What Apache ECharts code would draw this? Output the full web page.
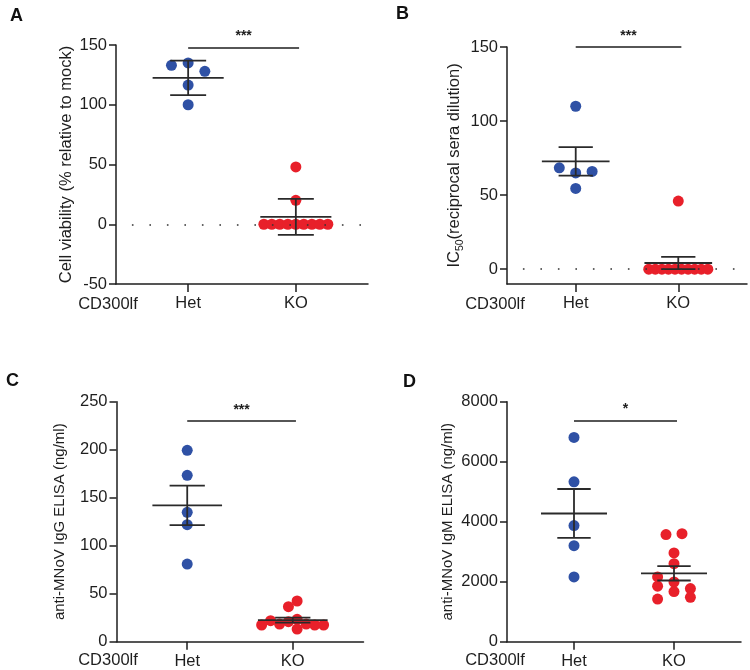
<!DOCTYPE html>
<html><head><meta charset="utf-8">
<script src="https://cdn.jsdelivr.net/npm/echarts@6/dist/echarts.min.js"></script>
<style>html,body{margin:0;padding:0;background:#fff}#c{width:750px;height:670px}</style>
</head><body><div id="c"></div>
<script>
// ---- data ----
const groups = ['Het', 'KO'];
const xAxisTitle = 'CD300lf';
const panelLetters = ['A', 'B', 'C', 'D'];

const aHet = [133, 135, 128, 116.5, 100];
const aHetJit = [-0.155, 0, 0.155, 0, 0];
const aKO = [0, 0, 0, 0, 0, 0, 0, 0, 0, 20, 48];
const aKOJit = [-0.297, -0.223, -0.149, -0.074, 0, 0.074, 0.149, 0.223, 0.297, 0, 0];

const bHet = [110, 68.4, 65, 66, 54.5];
const bHetJit = [0, -0.16, 0, 0.16, 0];
const bKO = [0, 0, 0, 0, 0, 0, 0, 0, 0, 0, 46];
const bKOJit = [-0.288, -0.224, -0.16, -0.096, -0.032, 0.032, 0.096, 0.16, 0.224, 0.288, 0];

const cHet = [199.4, 173.3, 134.8, 121.9, 80.9];
const cHetJit = [0, 0, 0, 0, 0];
const cKO = [17.4, 21.9, 18.4, 20.8, 23.3, 13.2, 18.4, 17.4, 17.4, 36.5, 42.4];
const cKOJit = [-0.295, -0.21, -0.125, -0.041, 0.041, 0.041, 0.127, 0.208, 0.292, -0.041, 0.041];

const dHet = [6810, 5330, 3870, 3200, 2160];
const dHetJit = [0, 0, 0, 0, 0];
const dKO = [3570, 3600, 2960, 2600, 2160, 1990, 1850, 1670, 1770, 1420, 1480];
const dKOJit = [-0.08, 0.08, 0, 0, -0.164, 0, -0.164, 0, 0.164, -0.164, 0.164];

const yTicksA = [-50, 0, 50, 100, 150];
const yTicksB = [0, 50, 100, 150];
const yTicksC = [0, 50, 100, 150, 200, 250];
const yTicksD = [0, 2000, 4000, 6000, 8000];
const yMin = [-50, -10, 0, 0];
const yMax = [150, 150, 250, 8000];

const yTitles = ['Cell viability (% relative to mock)', '{n|IC}{s|50}{n|(reciprocal sera dilution)}',
  'anti-MNoV IgG ELISA (ng/ml)', 'anti-MNoV IgM ELISA (ng/ml)'];
const errTypes = ['sd', 'sem', 'sem', 'sem'];
const sigLabels = ['***', '***', '***', '*'];
const sigY = [148, 150, 230, 7370];
const zeroLine = [true, true, false, false];

// ---- layout ----
const grids = [
  {left: 116, top: 45, width: 252, height: 239},
  {left: 507, top: 47, width: 240, height: 237},
  {left: 116.5, top: 401.7, width: 247, height: 240},
  {left: 507, top: 401.7, width: 234, height: 240}
];
const nameGaps = [41, 41, 49, 52];
const nameSizes = [16.5, 16.5, 15, 15];
const letterPos = [[10, 7], [396, 5], [6, 372], [403, 373]];
const cdPos = [[108, 304], [495, 304], [108, 660], [495, 660]];

const BLUE = '#2F51A5', RED = '#E8202A', INK = '#1e1e1e';
const FONT = '"Liberation Sans", Arial, Helvetica, sans-serif';
const FS = 16.5;

const panels = [
  {het: aHet, hj: aHetJit, ko: aKO, kj: aKOJit, ticks: yTicksA},
  {het: bHet, hj: bHetJit, ko: bKO, kj: bKOJit, ticks: yTicksB},
  {het: cHet, hj: cHetJit, ko: cKO, kj: cKOJit, ticks: yTicksC},
  {het: dHet, hj: dHetJit, ko: dKO, kj: dKOJit, ticks: yTicksD}
];

function stats(vals, type) {
  const n = vals.length;
  const m = vals.reduce((a, b) => a + b, 0) / n;
  const sd = Math.sqrt(vals.reduce((a, b) => a + (b - m) * (b - m), 0) / (n - 1));
  const e = type === 'sd' ? sd : sd / Math.sqrt(n);
  return [m, m - e, m + e];
}

const option = {
  animation: false,
  backgroundColor: '#fff',
  textStyle: {fontFamily: FONT},
  grid: grids.map(g => Object.assign({containLabel: false}, g)),
  xAxis: grids.map((g, i) => ({
    gridIndex: i, type: 'value', min: 0.33, max: 2.67,
    splitLine: {show: false},
    axisLine: {show: true, onZero: false, lineStyle: {color: INK, width: 1.5}},
    axisTick: {show: true, customValues: [1, 2], length: 8, lineStyle: {color: INK, width: 1.5}},
    axisLabel: {show: true, customValues: [1, 2], margin: 11, fontSize: FS, color: INK, fontFamily: FONT,
      formatter: v => groups[Math.round(v) - 1] || ''}
  })),
  yAxis: grids.map((g, i) => ({
    gridIndex: i, type: 'value', min: yMin[i], max: yMax[i],
    splitLine: {show: false},
    axisLine: {show: true, onZero: false, lineStyle: {color: INK, width: 1.5}},
    axisTick: {show: true, customValues: panels[i].ticks, length: 7, lineStyle: {color: INK, width: 1.5}},
    axisLabel: {show: true, customValues: panels[i].ticks, margin: 9, fontSize: FS, color: INK, fontFamily: FONT,
      formatter: v => String(v)},
    name: yTitles[i], nameLocation: 'middle', nameRotate: 90, nameGap: nameGaps[i],
    nameTextStyle: {fontSize: nameSizes[i], color: INK, fontFamily: FONT,
      rich: {n: {fontSize: nameSizes[i], color: INK, fontFamily: FONT, lineHeight: 20, verticalAlign: 'top'},
             s: {fontSize: 10.5, color: INK, fontFamily: FONT, lineHeight: 20, verticalAlign: 'bottom', padding: [9, 0, 0, 0]}}}
  })),
  graphic: [
    ...panelLetters.map((t, i) => ({type: 'text', left: letterPos[i][0], top: letterPos[i][1],
      style: {text: t, fontSize: 18, fontWeight: 'bold', fill: '#111', fontFamily: FONT}})),
    ...cdPos.map(p => ({type: 'text', x: p[0], y: p[1],
      style: {text: xAxisTitle, fontSize: FS, fill: INK, fontFamily: FONT, align: 'center', verticalAlign: 'middle'}}))
  ],
  series: []
};

panels.forEach((p, i) => {
  const mk = [];
  if (zeroLine[i]) {
    mk.push({yAxis: 0, lineStyle: {type: [1.6, 15.9], dashOffset: 1.6, color: '#333', width: 1.6}, label: {show: false}});
  }
  mk.push([
    {coord: [1, sigY[i]], lineStyle: {type: 'solid', color: INK, width: 1.5},
     label: {show: true, position: 'middle', formatter: sigLabels[i], distance: 4, fontSize: 14, fontWeight: 'bold', color: INK}},
    {coord: [2.03, sigY[i]]}
  ]);
  option.series.push({
    type: 'scatter', xAxisIndex: i, yAxisIndex: i, symbolSize: 11, z: 2,
    itemStyle: {color: BLUE, opacity: 1},
    data: p.het.map((v, k) => [1 + p.hj[k], v]),
    markLine: {silent: true, symbol: 'none', animation: false, data: mk}
  });
  option.series.push({
    type: 'scatter', xAxisIndex: i, yAxisIndex: i, symbolSize: 11, z: 2,
    itemStyle: {color: RED, opacity: 1},
    data: p.ko.map((v, k) => [2 + p.kj[k], v])
  });
  const sData = [p.het, p.ko].map((vals, g) => [g + 1].concat(stats(vals, errTypes[i])));
  option.series.push({
    type: 'custom', xAxisIndex: i, yAxisIndex: i, z: 3,
    encode: {x: 0, y: [1, 2, 3]},
    data: sData,
    renderItem: (params, api) => {
      const x = api.value(0), m = api.value(1), lo = api.value(2), hi = api.value(3);
      const L = (a, b) => ({type: 'line', shape: {x1: a[0], y1: a[1], x2: b[0], y2: b[1]},
        style: {stroke: '#2a2a2a', lineWidth: 1.8, fill: null}});
      return {type: 'group', children: [
        L(api.coord([x - 0.33, m]), api.coord([x + 0.33, m])),
        L(api.coord([x, lo]), api.coord([x, hi])),
        L(api.coord([x - 0.167, hi]), api.coord([x + 0.167, hi])),
        L(api.coord([x - 0.167, lo]), api.coord([x + 0.167, lo]))
      ]};
    }
  });
});

const chart = echarts.init(document.getElementById('c'), null, {renderer: 'canvas'});
chart.setOption(option);
</script>
</body></html>
